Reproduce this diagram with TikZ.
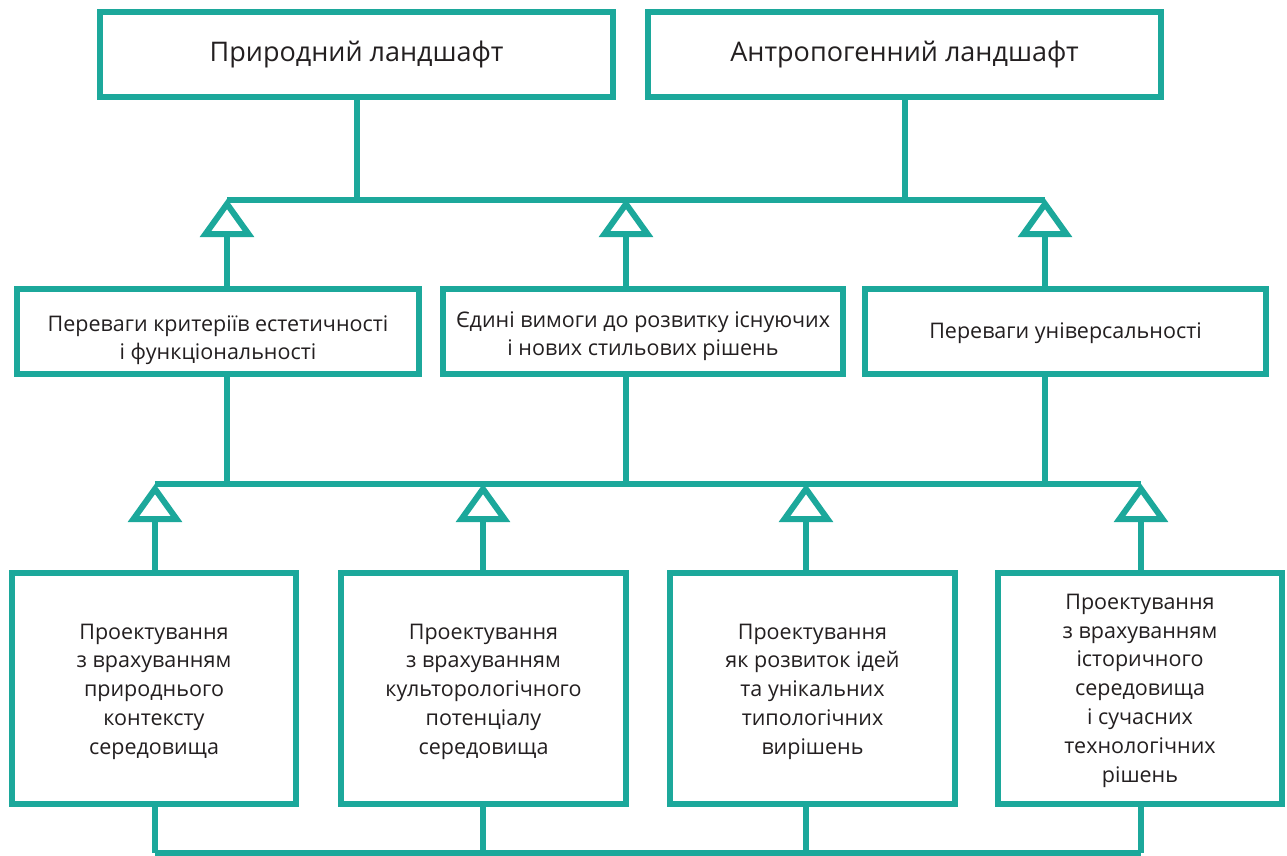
\documentclass[tikz,border=0pt]{standalone}
\usepackage{fontspec}
\setmainfont{Open Sans}
\definecolor{tealc}{RGB}{28,168,155}
\definecolor{txt}{RGB}{35,31,32}
\begin{document}
\begin{tikzpicture}[x=1pt,y=-1pt,
  box/.style={draw=tealc, line width=6pt, fill=white, align=center, text=txt,
    inner sep=0pt, outer sep=0pt, rectangle},
  topbox/.style={box, minimum width=513pt, minimum height=84.5pt, font=\fontsize{27}{33}\selectfont},
  midbox/.style={box, minimum height=85pt},
  botbox/.style={box, minimum height=231pt},
  midtext/.style={align=center, text=txt, inner sep=0pt, font=\fontsize{21.5}{28}\selectfont},
  bottext/.style={align=center, text=txt, inner sep=0pt, font=\fontsize{21.5}{28.8}\selectfont},
  conn/.style={draw=tealc, line width=6pt},
  tri/.style={draw=tealc, line width=6pt, fill=white, line join=miter}]
\useasboundingbox (0,0) rectangle (1287,856);

% top boxes
\node[topbox] (t1) at (356.5,54.75) {Природний ландшафт};
\node[topbox] (t2) at (904.5,54.75) {Антропогенний ландшафт};

% middle boxes
\node[midbox, minimum width=402pt] (m1) at (218,331.5) {};
\node[midbox, minimum width=400pt] (m2) at (643,331.5) {};
\node[midbox, minimum width=401pt] (m3) at (1065.5,331.5) {};
\node[midtext] (m1t) at ([yshift=-9pt]m1.center) {Переваги критеріїв естетичності\\і функціональності};
\node[midtext] (m2t) at ([yshift=-5pt]m2.center) {Єдині вимоги до розвитку існуючих\\і нових стильових рішень};
\node[midtext] (m3t) at ([yshift=-2pt]m3.center) {Переваги універсальності};

% bottom boxes
\node[botbox, minimum width=284pt] (b1) at (154,688.5) {};
\node[botbox, minimum width=285pt] (b2) at (483.5,688.5) {};
\node[botbox, minimum width=285pt] (b3) at (812.5,688.5) {};
\node[botbox, minimum width=284pt] (b4) at (1140,688.5) {};
\node[bottext] (b1t) at ([yshift=-3pt]b1.center) {Проектування\\з врахуванням\\природнього\\контексту\\середовища};
\node[bottext] (b2t) at ([yshift=-3pt]b2.center) {Проектування\\з врахуванням\\культорологічного\\потенціалу\\середовища};
\node[bottext] (b3t) at ([yshift=-3pt]b3.center) {Проектування\\як розвиток ідей\\та унікальних\\типологічних\\вирішень};
\node[bottext] (b4t) at ([yshift=-2pt]b4.center) {Проектування\\з врахуванням\\історичного\\середовища\\ і сучасних\\технологічних\\рішень};

% junction coordinates
\coordinate (ja) at (227,204);
\coordinate (jb) at (626,204);
\coordinate (jc) at (1045,204);
\coordinate (ka) at (155,489);
\coordinate (kb) at (483,489);
\coordinate (kc) at (806,489);
\coordinate (kd) at (1141,489);
\coordinate (bus1) at (0,200);
\coordinate (bus2) at (0,484);
\coordinate (bus3) at (0,852.5);

% upper bus
\draw[conn] (t1.south) -- (t1.south |- bus1);
\draw[conn] (t2.south) -- (t2.south |- bus1);
\draw[conn] (ja |- bus1) -- (jc |- bus1);
% upper triangles and stems
\foreach \j/\m in {ja/m1,jb/m2,jc/m3}{
  \draw[conn] (\j) ++(0,30) -- (\j |- \m.north);
  \draw[tri] (\j) -- ++(-21.5,30) -- ++(43,0) -- cycle;
  \draw[conn] (\m.south -| \j) -- (\j |- bus2);
}
% lower bus
\draw[conn] (ka |- bus2) -- (kd |- bus2);
\foreach \k/\b in {ka/b1,kb/b2,kc/b3,kd/b4}{
  \draw[conn] (\k) ++(0,30) -- (\k |- \b.north);
  \draw[tri] (\k) -- ++(-21.5,30) -- ++(43,0) -- cycle;
  \draw[conn] (\b.south -| \k) -- (\k |- bus3);
}
\draw[conn] (ka |- bus3) -- (kd |- bus3);
\end{tikzpicture}
\end{document}
